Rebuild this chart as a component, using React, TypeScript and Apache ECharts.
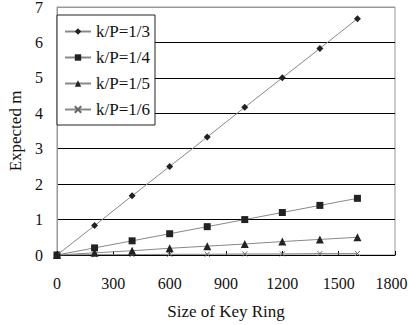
import React, { useEffect, useRef } from "react";
import * as echarts from "echarts";

const xValues = [0, 200, 400, 600, 800, 1000, 1200, 1400, 1600];
const seriesNames = ["k/P=1/3", "k/P=1/4", "k/P=1/5", "k/P=1/6"];
const s13 = [0, 0.83, 1.67, 2.5, 3.33, 4.17, 5.0, 5.83, 6.67];
const s14 = [0, 0.2, 0.4, 0.6, 0.8, 1.0, 1.2, 1.4, 1.6];
const s15 = [0, 0.06, 0.12, 0.19, 0.25, 0.31, 0.38, 0.44, 0.5];
const s16 = [0, 0.01, 0.01, 0.02, 0.02, 0.03, 0.03, 0.04, 0.04];

const symbols = ["diamond", "rect", "triangle", "path://M0,0L10,10M10,0L0,10"];
const symbolSizes = [7, 7, 8, 5];

export default function App() {
  const ref = useRef<HTMLDivElement>(null);
  useEffect(() => {
    const chart = echarts.init(ref.current!, null, { renderer: "svg" });
    const all = [s13, s14, s15, s16];
    const font = "Times New Roman";
    chart.setOption({
      animation: false,
      textStyle: { fontFamily: font },
      grid: {
        left: 57,
        top: 7,
        right: 14,
        bottom: 70,
        outerBoundsMode: "none",
        containLabel: false,
        show: true,
        borderColor: "#999",
        borderWidth: 1,
      },
      legend: {
        data: seriesNames,
        orient: "vertical",
        left: 57,
        top: 15,
        itemWidth: 26,
        itemHeight: 8,
        itemGap: 9,
        padding: [8, 5, 7, 7],
        borderColor: "#222",
        borderWidth: 1,
        backgroundColor: "#fff",
        textStyle: { fontFamily: font, fontSize: 17, color: "#111" },
      },
      xAxis: {
        type: "value",
        min: 0,
        max: 1800,
        interval: 300,
        name: "Size of Key Ring",
        nameLocation: "middle",
        nameGap: 48,
        nameTextStyle: { fontFamily: font, fontSize: 17, color: "#111" },
        axisLine: { show: true, lineStyle: { color: "#000", width: 1 } },
        axisTick: { show: true, inside: true, length: 4, lineStyle: { color: "#000" } },
        axisLabel: {
          fontFamily: font,
          fontSize: 16,
          color: "#111",
          margin: 20,
          formatter: (v: number) => (v === 1800 ? "{m|" + v + "}" : String(v)),
          rich: {
            m: { fontFamily: font, fontSize: 16, color: "#111", padding: [0, 7, 0, 0] },
          },
        },
        splitLine: { show: false },
      },
      yAxis: {
        type: "value",
        min: 0,
        max: 7,
        interval: 1,
        name: "Expected m",
        nameLocation: "middle",
        nameGap: 33,
        nameRotate: 90,
        nameTextStyle: { fontFamily: font, fontSize: 17, color: "#111" },
        axisLine: { show: true, lineStyle: { color: "#999", width: 1 } },
        axisTick: { show: false },
        axisLabel: { fontFamily: font, fontSize: 16, color: "#111", margin: 14 },
        splitLine: {
          show: true,
          lineStyle: {
            color: ["#000", "#000", "#000", "#000", "#000", "#000", "#000", "#999"],
            width: 1,
          },
        },
      },
      series: seriesNames.map((name, i) => ({
        name,
        type: "line",
        data: xValues.map((x, j) => [x, all[i][j]]),
        symbol: symbols[i],
        symbolSize: symbolSizes[i],
        showSymbol: true,
        lineStyle: { color: "#888", width: 1 },
        itemStyle:
          i === 3
            ? { color: "#666", borderColor: "#666", borderWidth: 1 }
            : { color: "#222", borderColor: "#222", borderWidth: 0 },
        z: 10 - i,
      })),
    });
    return () => chart.dispose();
  }, []);
  return (
    <div
      ref={ref}
      style={{ position: "fixed", left: 0, top: 0, width: 409, height: 325, background: "#fff" }}
    />
  );
}
